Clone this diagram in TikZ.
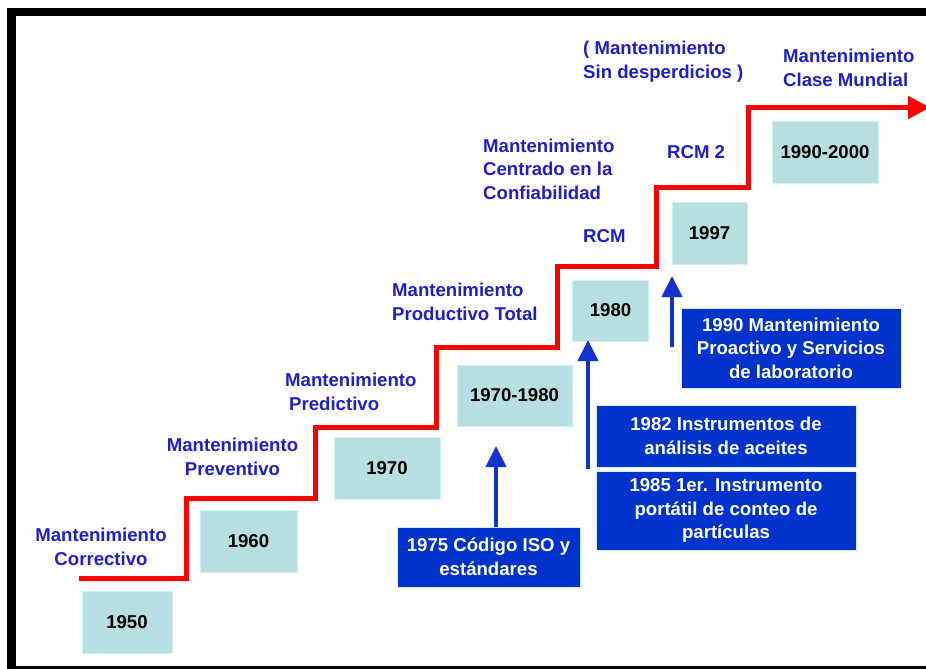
\documentclass[tikz,border=0pt]{standalone}
\usepackage{fontspec}
\setmainfont{Liberation Sans}
\usetikzlibrary{arrows.meta}

\definecolor{labelblue}{RGB}{30,30,205}
\definecolor{yearfill}{RGB}{183,223,225}
\definecolor{yearedge}{RGB}{205,245,245}
\definecolor{notefill}{RGB}{0,51,204}
\definecolor{arrowblue}{RGB}{20,50,205}
\definecolor{stepred}{RGB}{255,0,0}

\begin{document}
\begin{tikzpicture}[x=1pt,y=-1pt,
  every node/.style={font=\fontsize{18.6}{23.5}\selectfont\bfseries, inner sep=0pt},
  % multi-line labels are placed by the baseline of their last line
  era/.style={text=labelblue, anchor=base west, align=left},
  eraC/.style={text=labelblue, anchor=base, align=center},
  yearbox/.style={fill=yearfill, draw=yearedge, line width=1pt, text=black},
  notebox/.style={fill=notefill, draw=yearedge, line width=1pt, text=white, align=center},
  steps/.style={draw=stepred, line width=5pt, -{Triangle[width=22pt,length=22pt]}},
  riser/.style={draw=arrowblue, line width=4pt, -{Triangle[width=20pt,length=21pt]}}
]
\useasboundingbox (0,0) rectangle (926,669);

% outer frame
\draw[line width=8.5pt] (945,12) -- (11.5,12) -- (11.5,670) -- (945,670);

% year boxes
\node[yearbox, minimum width=90pt,  minimum height=62pt] (y1950) at (127,622)     {1950};
\node[yearbox, minimum width=97pt,  minimum height=62pt] (y1960) at (248.5,541)   {1960};
\node[yearbox, minimum width=106pt, minimum height=62pt] (y1970) at (387,468)     {1970};
\node[yearbox, minimum width=115pt, minimum height=61pt] (y7080) at (514.5,395.5) {1970-1980};
\node[yearbox, minimum width=76pt,  minimum height=61pt] (y1980) at (610.5,310.5) {1980};
\node[yearbox, minimum width=75pt,  minimum height=62pt] (y1997) at (709.5,233)   {1997};
\node[yearbox, minimum width=106pt, minimum height=62pt] (y9000) at (825,152)     {1990-2000};

% rising staircase
\draw[steps] (79,578.5) -- (186,578.5) -- (186,498) -- (315.5,498) -- (315.5,427.5)
  -- (436.5,427.5) -- (436.5,347.5) -- (557.5,347.5) -- (557.5,266.5)
  -- (656.5,266.5) -- (656.5,187.3) -- (748.5,187.3) -- (748.5,107.5) -- (930,107.5);

% maintenance eras
\node[eraC] (corr)   at (101,565)   {Mantenimiento\\Correctivo};
\node[eraC] (prev)   at (232.5,475) {Mantenimiento\\Preventivo};
\node[era]  (pred)   at (285,410)   {Mantenimiento\\\hspace*{4pt}Predictivo};
\node[era]  (ptot)   at (392,320)   {Mantenimiento\\Productivo Total};
\node[era]  (rcmlab) at (483,199)   {Mantenimiento\\Centrado en la\\Confiabilidad};
\node[era]  (rcm)    at (583,242)   {RCM};
\node[era]  (lean)   at (583,78)    {( Mantenimiento\\Sin desperdicios )};
\node[era]  (rcm2)   at (667,158)   {RCM 2};
\node[era]  (wcm)    at (783,86)    {Mantenimiento\\Clase Mundial};

% milestone notes
\node[notebox, minimum width=183pt, minimum height=60pt] (iso)  at (488.5,557) {1975 Código ISO y\\estándares};
\node[notebox, minimum width=260pt, minimum height=62pt] (oil)  at (726,436)   {1982 Instrumentos de\\análisis de aceites};
\node[notebox, minimum width=260pt, minimum height=79pt] (part) at (726,510.5) {1985 1er. Instrumento\\portátil de conteo de\\partículas};
\node[notebox, minimum width=220pt, minimum height=80pt] (proa) at (791,348)   {1990 Mantenimiento\\Proactivo y Servicios\\de laboratorio};

% pointers from the notes
\coordinate (isoTail)  at (496,527);
\coordinate (isoTip)   at (496,446);
\coordinate (instTail) at (588,469);
\coordinate (instTip)  at (588,340);
\coordinate (proaTail) at (672,347);
\coordinate (proaTip)  at (672,276);
\draw[riser] (isoTail)  -- (isoTip);
\draw[riser] (instTail) -- (instTip);
\draw[riser] (proaTail) -- (proaTip);
\end{tikzpicture}
\end{document}
